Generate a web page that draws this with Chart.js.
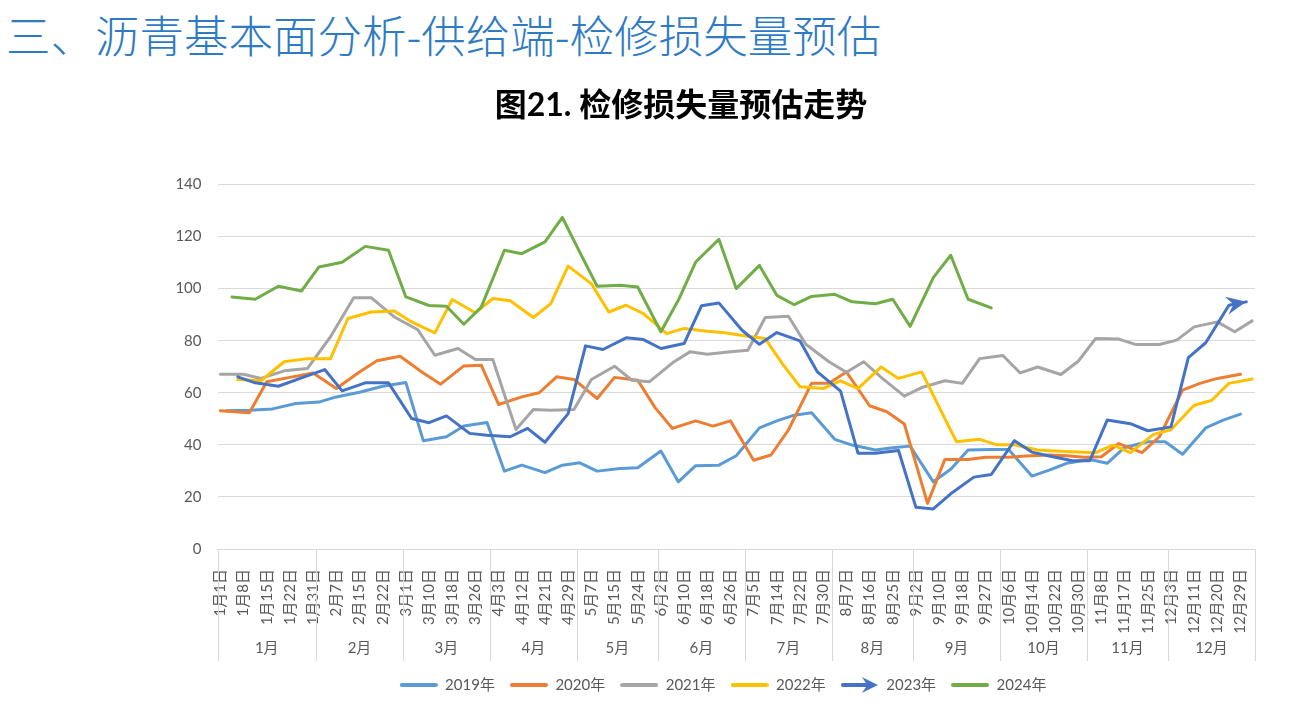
<!DOCTYPE html>
<html lang="zh-CN">
<head>
<meta charset="utf-8">
<title>检修损失量预估走势</title>
<script src="https://cdn.jsdelivr.net/npm/chart.js@4.4.1/dist/chart.umd.min.js"></script>
<style>
  html, body { margin: 0; padding: 0; background: #fff; }
  body { width: 1301px; height: 716px; position: relative; overflow: hidden; }
  #heading {
    position: absolute; left: 6px; top: 1px; margin: 0;
    font: 300 44.5px "Noto Sans CJK SC", sans-serif; color: #2E7BC4; white-space: nowrap;
  }
  #lossChart { position: absolute; left: 107px; top: 70px; }
</style>
</head>
<body>
<h1 id="heading">三、沥青基本面分析-供给端-检修损失量预估</h1>
<canvas id="lossChart" width="1194" height="646"></canvas>
<script>
const FONT = 'Lato, "Noto Sans CJK SC", sans-serif'

// x axis: 179 date slots, a label on every 4th slot, grouped by month
const slotCount = 179
const xLabels = ['1月1日', '1月8日', '1月15日', '1月22日', '1月31日', '2月7日', '2月15日', '2月22日',
    '3月1日', '3月10日', '3月18日', '3月26日', '4月3日', '4月12日', '4月21日', '4月29日',
    '5月7日', '5月15日', '5月24日', '6月2日', '6月10日', '6月18日', '6月26日',
    '7月5日', '7月14日', '7月22日', '7月30日', '8月7日', '8月16日', '8月25日',
    '9月2日', '9月10日', '9月18日', '9月27日', '10月6日', '10月14日', '10月22日', '10月30日',
    '11月8日', '11月17日', '11月25日', '12月3日', '12月11日', '12月20日', '12月29日']
const months = ['1月', '2月', '3月', '4月', '5月', '6月', '7月', '8月', '9月', '10月', '11月', '12月']
const monthEdges = [0, 17, 32, 47, 62, 76, 91, 106, 120, 135, 150, 164, 179]

// slot of every weekly reading, per year
const slots2019 = [1, 5, 9, 13, 17, 20, 24, 28, 32, 35, 39, 42, 46, 49, 52, 56, 59, 62, 65, 69, 72, 76, 79, 82, 86, 89,
    93, 96, 99, 102, 106, 109, 113, 116, 119, 123, 126, 129, 133, 136, 140, 143, 146, 150, 153, 156, 160, 163, 166, 170, 173, 176]
const slots2020 = [0, 5, 8, 12, 16, 20, 24, 27, 31, 35, 38, 42, 45, 48, 52, 55, 58, 61, 65, 68, 72, 75, 78, 82, 85, 88,
    92, 95, 98, 102, 105, 108, 112, 115, 118, 122, 125, 129, 132, 136, 139, 143, 146, 149, 152, 155, 159, 162, 166, 169, 172, 176]
const slots2021 = [0, 4, 7, 11, 15, 19, 23, 26, 30, 34, 37, 41, 44, 47, 51, 54, 57, 61, 64, 68, 71, 74, 78, 81, 84, 88,
    91, 94, 98, 101, 105, 108, 111, 114, 118, 121, 125, 128, 131, 135, 138, 141, 145, 148, 151, 155, 158, 162, 165, 168, 172, 175, 178]
const slots2022 = [3, 7, 11, 15, 19, 22, 26, 30, 33, 37, 40, 44, 47, 50, 54, 57, 60, 64, 67, 70, 73, 77, 80, 84, 87, 91,
    94, 97, 100, 104, 107, 110, 114, 117, 121, 124, 127, 131, 134, 137, 141, 144, 148, 151, 154, 157, 161, 164, 168, 171, 174, 178]
const slots2023 = [3, 6, 10, 14, 18, 21, 25, 29, 33, 36, 39, 43, 46, 50, 53, 56, 60, 63, 66, 70, 73, 76, 80, 83, 86, 90,
    93, 96, 100, 103, 107, 110, 113, 117, 120, 123, 126, 130, 133, 137, 140, 143, 147, 150, 153, 157, 160, 164, 167, 170, 174, 177]
const slots2024 = [2, 6, 10, 14, 17, 21, 25, 29, 32, 36, 39, 42, 45, 49, 52, 56, 59, 62, 65, 69, 72, 76, 79, 82, 86, 89,
    93, 96, 99, 102, 106, 109, 113, 116, 119, 123, 126, 129, 133]

// weekly maintenance loss
const loss2019 = [53.1, 53.3, 53.8, 55.9, 56.4, 58.4, 60.2, 62.5, 63.9, 41.6, 43.1, 47.2, 48.6, 29.9, 32.2, 29.3, 32.2, 33.1,
    29.9, 30.9, 31.2, 37.6, 25.8, 32.0, 32.2, 35.8, 46.5, 49.2, 51.4, 52.3, 42.1, 39.9, 38.0, 38.9, 39.5, 25.8, 30.6, 38.0,
    38.2, 38.2, 28.0, 30.3, 32.9, 34.4, 32.9, 39.0, 41.2, 41.2, 36.4, 46.5, 49.5, 51.8]
const loss2020 = [53.1, 52.3, 64.2, 65.9, 67.6, 61.6, 68.0, 72.3, 74.0, 67.6, 63.3, 70.3, 70.6, 55.5, 58.4, 60.0, 66.1, 65.1,
    57.8, 65.9, 64.8, 54.3, 46.3, 49.2, 47.2, 49.2, 34.1, 36.1, 45.7, 63.6, 63.6, 68.0, 55.0, 52.7, 48.0, 17.5, 34.4, 34.4,
    35.2, 35.2, 35.7, 36.1, 35.8, 35.2, 35.4, 40.5, 37.0, 43.1, 61.0, 63.6, 65.5, 67.1]
const loss2021 = [67.1, 67.1, 65.5, 68.4, 69.3, 81.5, 96.5, 96.5, 89.1, 84.3, 74.4, 77.0, 72.8, 72.8, 45.9, 53.6, 53.3, 53.6,
    65.1, 70.2, 64.8, 64.2, 71.5, 75.7, 74.8, 75.7, 76.3, 88.9, 89.4, 78.6, 71.9, 67.9, 71.9, 65.9, 58.7, 62.0, 64.6, 63.6,
    73.1, 74.3, 67.6, 69.9, 67.0, 72.1, 80.8, 80.6, 78.5, 78.5, 80.2, 85.3, 87.2, 83.4, 87.6]
const loss2022 = [65.1, 64.6, 71.9, 73.1, 73.1, 88.5, 91.0, 91.4, 87.2, 83.0, 95.8, 90.7, 96.2, 95.3, 88.9, 94.2, 108.6, 101.9,
    91.0, 93.6, 90.4, 82.7, 84.7, 83.6, 83.0, 81.7, 80.8, 71.0, 62.3, 61.6, 64.6, 61.6, 69.9, 65.5, 68.0, 54.5, 41.2, 42.1,
    40.0, 40.0, 38.0, 37.6, 37.2, 37.0, 39.9, 37.0, 44.0, 45.8, 55.2, 57.0, 63.6, 65.3]
const loss2023 = [66.1, 63.8, 62.5, 65.7, 68.9, 60.7, 63.8, 63.8, 50.1, 48.5, 51.1, 44.4, 43.7, 43.1, 46.3, 41.0, 52.0, 78.0,
    76.6, 81.1, 80.4, 77.0, 78.9, 93.4, 94.5, 84.0, 78.6, 83.1, 79.9, 68.0, 60.6, 36.8, 36.8, 37.8, 16.0, 15.4, 21.2, 27.6,
    28.6, 41.6, 37.2, 35.7, 33.9, 33.9, 49.5, 48.1, 45.4, 46.9, 73.5, 79.2, 93.6, 94.9]
const loss2024 = [96.8, 95.9, 100.9, 99.1, 108.3, 110.1, 116.2, 114.7, 96.8, 93.5, 93.2, 86.3, 92.9, 114.7, 113.4, 117.9, 127.3,
    114.0, 100.9, 101.3, 100.6, 83.4, 95.5, 110.2, 118.9, 100.0, 108.9, 97.4, 93.8, 97.0, 97.8, 94.9, 94.2, 95.9, 85.5,
    104.2, 112.8, 95.9, 92.6]

const series = [
    { label: '2019年', slots: slots2019, values: loss2019, color: '#5B9BD5' },
    { label: '2020年', slots: slots2020, values: loss2020, color: '#ED7D31' },
    { label: '2021年', slots: slots2021, values: loss2021, color: '#A5A5A5' },
    { label: '2022年', slots: slots2022, values: loss2022, color: '#FFC000' },
    { label: '2023年', slots: slots2023, values: loss2023, color: '#4472C4', arrow: true },
    { label: '2024年', slots: slots2024, values: loss2024, color: '#70AD47' }
]

// stealth arrow head, tip at (0, 0) pointing to +x
function arrowPath(ctx, len, half) {
    ctx.beginPath()
    ctx.moveTo(0, 0)
    ctx.lineTo(-len, -half)
    ctx.lineTo(-len * 0.65, 0)
    ctx.lineTo(-len, half)
    ctx.closePath()
}

// legend swatches: short line, or line with arrow for 2023
function legendIcon(s) {
    const c = document.createElement('canvas')
    c.width = 38
    c.height = 16
    const g = c.getContext('2d')
    g.strokeStyle = g.fillStyle = s.color
    g.lineWidth = 4
    g.lineCap = 'round'
    g.beginPath()
    g.moveTo(2, 8)
    g.lineTo(s.arrow ? 28 : 36, 8)
    g.stroke()
    if (s.arrow) {
        g.translate(37, 8)
        arrowPath(g, 16, 8)
        g.fill()
    }
    return c
}

const arrowEnd = {
    id: 'arrowEnd',
    afterDatasetsDraw(chart) {
        const ctx = chart.ctx
        series.forEach((s, i) => {
            if (!s.arrow) return
            const pts = chart.getDatasetMeta(i).data
            const a = pts[pts.length - 2]
            const b = pts[pts.length - 1]
            ctx.save()
            ctx.translate(b.x, b.y)
            ctx.rotate(Math.atan2(b.y - a.y, b.x - a.x))
            ctx.fillStyle = s.color
            arrowPath(ctx, 20, 9)
            ctx.fill()
            ctx.restore()
        })
    }
}

// second axis row: month separators and month names
const monthAxis = {
    id: 'monthAxis',
    afterDraw(chart) {
        const { ctx, chartArea } = chart
        const x = chart.scales.x
        const top = chartArea.bottom
        ctx.save()
        ctx.strokeStyle = '#D9D9D9'
        ctx.lineWidth = 1
        monthEdges.forEach(e => {
            const px = Math.round(x.getPixelForValue(e)) + 0.5
            ctx.beginPath()
            ctx.moveTo(px, top)
            ctx.lineTo(px, top + 112)
            ctx.stroke()
        })
        ctx.fillStyle = '#595959'
        ctx.font = '15px ' + FONT
        ctx.textAlign = 'center'
        ctx.textBaseline = 'middle'
        months.forEach((m, i) => {
            ctx.fillText(m, x.getPixelForValue((monthEdges[i] + monthEdges[i + 1]) / 2), top + 99)
        })
        ctx.restore()
    }
}

// the reference legend sits right of the canvas centre
const legendShift = {
    id: 'legendShift',
    afterLayout(chart) {
        chart.legend.left += 42
        chart.legend.right += 42
    }
}

new Chart(document.getElementById('lossChart'), {
    type: 'line',
    data: {
        datasets: series.map((s, i) => ({
            label: s.label,
            data: s.slots.map((k, j) => ({ x: k + 0.5, y: s.values[j] })),
            borderColor: s.color,
            backgroundColor: s.color,
            borderWidth: 3,
            borderJoinStyle: 'round',
            borderCapStyle: 'round',
            pointRadius: 0,
            tension: 0,
            order: series.length - i
        }))
    },
    options: {
        responsive: false,
        animation: false,
        devicePixelRatio: 1,
        events: [],
        layout: { padding: { left: 0, right: 46, top: 0, bottom: 13.5 } },
        scales: {
            x: {
                type: 'linear',
                min: 0,
                max: slotCount,
                afterBuildTicks: scale => {
                    scale.ticks = xLabels.map((_, i) => ({ value: i * 4 + 0.5 }))
                },
                afterFit: scale => { scale.height = 113.5 },
                ticks: {
                    autoSkip: false,
                    minRotation: 90,
                    maxRotation: 90,
                    padding: 12,
                    color: '#595959',
                    font: { family: FONT, size: 15 },
                    callback: (value, index) => xLabels[index]
                },
                grid: { display: false },
                border: { color: '#D9D9D9' }
            },
            y: {
                min: 0,
                max: 140,
                afterFit: scale => { scale.width = 110.5 },
                ticks: {
                    stepSize: 20,
                    padding: 16,
                    color: '#595959',
                    font: { family: FONT, size: 15 }
                },
                grid: { color: '#D9D9D9', drawTicks: false },
                border: { display: false }
            }
        },
        plugins: {
            title: {
                display: true,
                text: '图21. 检修损失量预估走势',
                color: '#000000',
                font: { family: FONT, size: 32, weight: 'bold' },
                padding: { top: 16, bottom: 60 }
            },
            legend: {
                position: 'bottom',
                labels: {
                    usePointStyle: true,
                    pointStyleWidth: 38,
                    padding: 15,
                    color: '#595959',
                    font: { family: FONT, size: 15 },
                    generateLabels: chart => series.map((s, i) => ({
                        text: s.label,
                        datasetIndex: i,
                        pointStyle: legendIcon(s),
                        fillStyle: s.color,
                        strokeStyle: s.color,
                        lineWidth: 0,
                        fontColor: '#595959',
                        hidden: false
                    }))
                }
            },
            tooltip: { enabled: false }
        }
    },
    plugins: [arrowEnd, monthAxis, legendShift]
})
</script>
</body>
</html>
